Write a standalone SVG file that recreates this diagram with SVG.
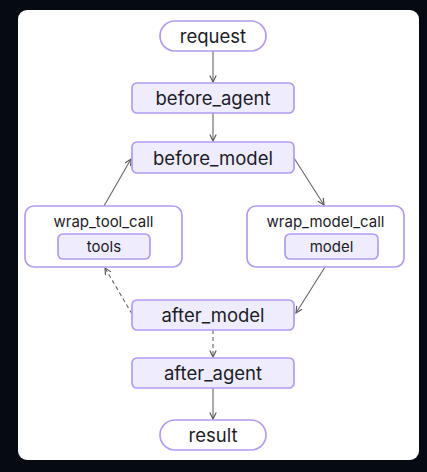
<svg xmlns="http://www.w3.org/2000/svg" width="427" height="472" viewBox="0 0 427 472">
<style>
.node rect{fill:#efedfd;stroke:#b39cf0;stroke-width:1.7}
.term rect{fill:#ffffff;stroke:#b39cf0;stroke-width:1.7}
.wrap>rect{fill:#ffffff;stroke:#b39cf0;stroke-width:1.7}
.t{font-family:Inter,"Noto Sans",sans-serif;fill:#1c1c28;text-anchor:middle;dominant-baseline:central}
.big{font-size:18.5px}
.small{font-size:15px}
.edge{fill:none;stroke:#666666;stroke-width:1.1}
.dash{stroke-dasharray:4 3}
</style>
<defs>
<marker id="ah" viewBox="0 0 10 10" refX="9" refY="5" markerWidth="8" markerHeight="8" markerUnits="userSpaceOnUse" orient="auto">
<path d="M1,1 L9,5 L1,9" fill="none" stroke="#555555" stroke-width="1.4"/>
</marker>
</defs>
<rect x="0" y="0" width="427" height="472" fill="#060a12"/>
<rect x="18" y="10" width="401" height="450" rx="9" fill="#ffffff"/>
<g id="connectors">
<path class="edge" d="M213,51 L213,82" marker-end="url(#ah)"/>
<path class="edge" d="M213,113 L213,141" marker-end="url(#ah)"/>
<path class="edge" d="M294,158 L324,205" marker-end="url(#ah)"/>
<path class="edge" d="M104,206 L131,159" marker-end="url(#ah)"/>
<path class="edge" d="M325,267 L296,313" marker-end="url(#ah)"/>
<path class="edge dash" d="M132,314 L105,268" marker-end="url(#ah)"/>
<path class="edge dash" d="M213,330 L213,357" marker-end="url(#ah)"/>
<path class="edge" d="M213,388 L213,419" marker-end="url(#ah)"/>
</g>
<g id="request" class="term"><rect x="160" y="21" width="106" height="30" rx="15"/><text class="t big" x="213" y="36">request</text></g>
<g id="before_agent" class="node"><rect x="132" y="83" width="162" height="30" rx="5"/><text class="t big" x="213" y="98">before_agent</text></g>
<g id="before_model" class="node"><rect x="132" y="142" width="162" height="31" rx="5"/><text class="t big" x="213" y="157.5">before_model</text></g>
<g id="wrap_tool_call" class="wrap"><rect x="25" y="206" width="157" height="61" rx="9"/><text class="t small" x="103.5" y="221">wrap_tool_call</text>
<g id="tools" class="node"><rect x="58" y="234" width="92" height="25" rx="5"/><text class="t small" x="104" y="246.5">tools</text></g></g>
<g id="wrap_model_call" class="wrap"><rect x="247" y="206" width="157" height="61" rx="9"/><text class="t small" x="325.5" y="221">wrap_model_call</text>
<g id="model" class="node"><rect x="285" y="234" width="93" height="25" rx="5"/><text class="t small" x="331.5" y="246.5">model</text></g></g>
<g id="after_model" class="node"><rect x="132" y="300" width="162" height="30" rx="5"/><text class="t big" x="213" y="315">after_model</text></g>
<g id="after_agent" class="node"><rect x="132" y="358" width="162" height="30" rx="5"/><text class="t big" x="213" y="373">after_agent</text></g>
<g id="result" class="term"><rect x="160" y="420" width="106" height="30" rx="15"/><text class="t big" x="213" y="435">result</text></g>
</svg>
